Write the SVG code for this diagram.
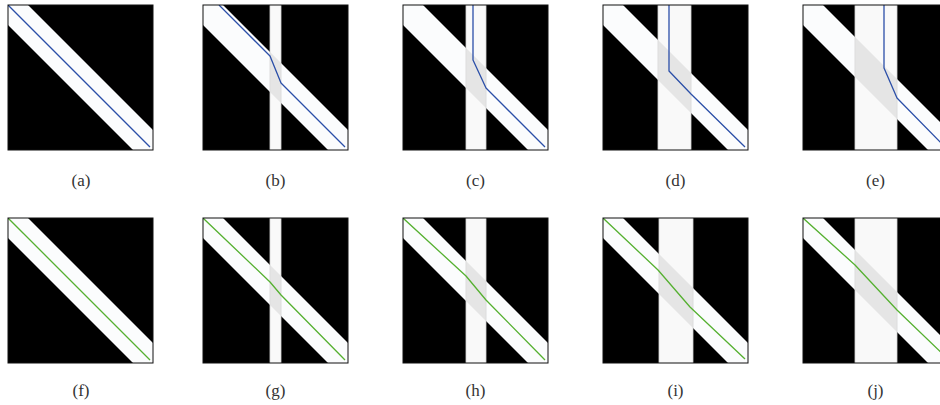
<svg xmlns="http://www.w3.org/2000/svg" width="940" height="405" viewBox="0 0 940 405">
<style>
.bg{fill:#000}
.frame{fill:none;stroke:#111;stroke-width:1}
.band{fill:#fbfcfd}
.bar{fill:#f9f9f9;stroke:#d4d4d4;stroke-width:0.8}
.ov{fill:#dedede;opacity:0.75}
.blue{fill:none;stroke:#2b4fa8;stroke-width:1.3;stroke-linejoin:round}
.green{fill:none;stroke:#55b030;stroke-width:1.3;stroke-linejoin:round}
.lbl{font-family:"Liberation Serif","DejaVu Serif",serif;font-size:17px;fill:#333;text-anchor:middle}
</style>
<defs>
<clipPath id="cp"><rect x="0" y="0" width="145" height="145"/></clipPath>
<polygon id="band" class="band" points="0,0 20,0 145,125 145,145 125,145 0,20"/>
</defs>

<g id="panel-a" transform="translate(8,5)">
<g clip-path="url(#cp)">
<rect class="bg" width="145" height="145"/>
<use href="#band"/>
<polyline class="blue" points="0,0 142,142"/>
</g>
<rect class="frame" width="145" height="145"/>
</g>

<g id="panel-b" transform="translate(203,5)">
<g clip-path="url(#cp)">
<rect class="bg" width="145" height="145"/>
<use href="#band"/>
<rect class="bar" x="67" y="-1" width="11" height="147"/>
<polygon class="ov" points="67,47 78,58 78,98 67,87"/>
<polyline class="blue" points="16,0 67,51 78,78 142,142"/>
</g>
<rect class="frame" width="145" height="145"/>
</g>

<g id="panel-c" transform="translate(403,5)">
<g clip-path="url(#cp)">
<rect class="bg" width="145" height="145"/>
<use href="#band"/>
<rect class="bar" x="63" y="-1" width="20" height="147"/>
<polygon class="ov" points="63,43 83,63 83,103 63,83"/>
<polyline class="blue" points="70,0 70,55 83,83 142,142"/>
</g>
<rect class="frame" width="145" height="145"/>
</g>

<g id="panel-d" transform="translate(603,5)">
<g clip-path="url(#cp)">
<rect class="bg" width="145" height="145"/>
<use href="#band"/>
<rect class="bar" x="55" y="-1" width="33" height="147"/>
<polygon class="ov" points="55,35 88,68 88,108 55,75"/>
<polyline class="blue" points="66,0 66,66 88,89 142,142"/>
</g>
<rect class="frame" width="145" height="145"/>
</g>

<g id="panel-e" transform="translate(803,5)">
<g clip-path="url(#cp)">
<rect class="bg" width="145" height="145"/>
<use href="#band"/>
<rect class="bar" x="52" y="-1" width="42" height="147"/>
<polygon class="ov" points="52,32 94,74 94,114 52,72"/>
<polyline class="blue" points="81,0 81,63 94,93 142,142"/>
</g>
<rect class="frame" width="145" height="145"/>
</g>

<g id="panel-f" transform="translate(8,218)">
<g clip-path="url(#cp)">
<rect class="bg" width="145" height="145"/>
<use href="#band"/>
<polyline class="green" points="0,0 142,142"/>
</g>
<rect class="frame" width="145" height="145"/>
</g>

<g id="panel-g" transform="translate(203,218)">
<g clip-path="url(#cp)">
<rect class="bg" width="145" height="145"/>
<use href="#band"/>
<rect class="bar" x="67" y="-1" width="11" height="147"/>
<polygon class="ov" points="67,47 78,58 78,98 67,87"/>
<polyline class="green" points="0,0 67,64 78,77 142,142"/>
</g>
<rect class="frame" width="145" height="145"/>
</g>

<g id="panel-h" transform="translate(403,218)">
<g clip-path="url(#cp)">
<rect class="bg" width="145" height="145"/>
<use href="#band"/>
<rect class="bar" x="63" y="-1" width="20" height="147"/>
<polygon class="ov" points="63,43 83,63 83,103 63,83"/>
<polyline class="green" points="0,0 63,58 83,82 142,142"/>
</g>
<rect class="frame" width="145" height="145"/>
</g>

<g id="panel-i" transform="translate(603,218)">
<g clip-path="url(#cp)">
<rect class="bg" width="145" height="145"/>
<use href="#band"/>
<rect class="bar" x="56" y="-1" width="34" height="147"/>
<polygon class="ov" points="56,36 90,70 90,110 56,76"/>
<polyline class="green" points="0,0 55,52 87,89 142,141"/>
</g>
<rect class="frame" width="145" height="145"/>
</g>

<g id="panel-j" transform="translate(803,218)">
<g clip-path="url(#cp)">
<rect class="bg" width="145" height="145"/>
<use href="#band"/>
<rect class="bar" x="52" y="-1" width="42" height="147"/>
<polygon class="ov" points="52,32 94,74 94,114 52,72"/>
<polyline class="green" points="0,0 52,47 94,92 145,141"/>
</g>
<rect class="frame" width="145" height="145"/>
</g>

<g id="labels">
<text class="lbl" x="81" y="186">(a)</text>
<text class="lbl" x="275.5" y="186">(b)</text>
<text class="lbl" x="475.5" y="186">(c)</text>
<text class="lbl" x="675.5" y="186">(d)</text>
<text class="lbl" x="875.5" y="186">(e)</text>
<text class="lbl" x="81" y="396">(f)</text>
<text class="lbl" x="275.5" y="396">(g)</text>
<text class="lbl" x="475.5" y="396">(h)</text>
<text class="lbl" x="675.5" y="396">(i)</text>
<text class="lbl" x="875.5" y="396">(j)</text>
</g>
</svg>
